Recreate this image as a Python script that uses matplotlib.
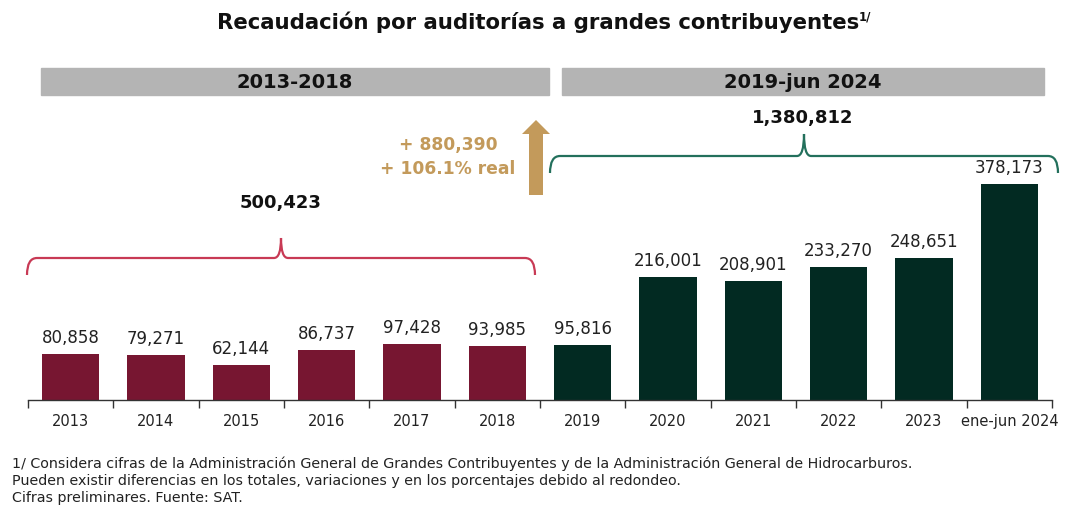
import matplotlib
matplotlib.use("Agg")
import matplotlib.pyplot as plt
from matplotlib.path import Path
from matplotlib.patches import PathPatch, Rectangle, FancyArrow

categories = ["2013", "2014", "2015", "2016", "2017", "2018",
              "2019", "2020", "2021", "2022", "2023", "ene-jun 2024"]
values = [80858, 79271, 62144, 86737, 97428, 93985,
          95816, 216001, 208901, 233270, 248651, 378173]
period_labels = ["2013-2018", "2019-jun 2024"]
period_totals = ["500,423", "1,380,812"]
growth_text = "+ 880,390\n+ 106.1% real"
title = "Recaudación por auditorías a grandes contribuyentes"
footnotes = [
    "1/ Considera cifras de la Administración General de Grandes Contribuyentes y de la Administración General de Hidrocarburos.",
    "Pueden existir diferencias en los totales, variaciones y en los porcentajes debido al redondeo.",
    "Cifras preliminares. Fuente: SAT.",
]

MAROON = "#771631"
GREEN = "#022a22"
GOLD = "#c39a5b"
RED_BR = "#c83a55"
GREEN_BR = "#23705c"
GRAY = "#b4b4b4"

plt.rcParams['font.family'] = ['DejaVu Sans']

W, H = 1073, 523
fig = plt.figure(figsize=(W / 100, H / 100), dpi=100)

# main axes (pixel layout): x 28..1052, baseline y=400, top y=60
ax_l, ax_r, ax_b, ax_t = 28, 1052, 400, 60
ax = fig.add_axes([ax_l / W, (H - ax_b) / H, (ax_r - ax_l) / W, (ax_b - ax_t) / H])
ppu = 216 / 378173.0
ax.set_ylim(0, (ax_b - ax_t) / ppu)
ax.set_xlim(-0.5, len(categories) - 0.5)
x = list(range(len(categories)))
colors = [MAROON] * 6 + [GREEN] * 6
ax.bar(x, values, width=0.67, color=colors, zorder=2)
for xi, v in zip(x, values):
    ax.text(xi, v + 7 / ppu, f"{v:,}", ha="center", va="bottom", fontsize=12, color="#222222")

for s in ["top", "right", "left"]:
    ax.spines[s].set_visible(False)
ax.spines["bottom"].set_color("#333333")
ax.spines["bottom"].set_linewidth(1.0)
ax.set_yticks([])
ax.set_xticks([i - 0.5 for i in range(len(categories) + 1)], minor=False)
ax.set_xticklabels([])
ax.tick_params(axis="x", length=6, color="#333333", width=1)
ax.set_xticks(x, minor=True)
ax.set_xticklabels(categories, minor=True, fontsize=10.5, color="#222222")
ax.tick_params(axis="x", which="minor", length=0, pad=10)

# overlay in pixel coordinates
ov = fig.add_axes([0, 0, 1, 1], facecolor="none")
ov.set_xlim(0, W)
ov.set_ylim(H, 0)
ov.axis("off")

fig.text(538 / W, 1 - 22 / H, title, ha="center", va="center",
         fontsize=15.3, fontweight="bold", color="#111111")
fig.text(859 / W, 1 - 17 / H, "1/", ha="left", va="center",
         fontsize=8.5, fontweight="bold", color="#111111")

# period header bars
for (x0, x1), lab in zip([(41, 549), (562, 1044)], period_labels):
    ov.add_patch(Rectangle((x0, 68), x1 - x0, 27, color=GRAY, zorder=1))
    ov.text((x0 + x1) / 2, 82, lab, ha="center", va="center", fontsize=14,
            fontweight="bold", color="#111111")


def brace(x0, x1, xc, y_end, y_h, y_top, color):
    r = 10
    verts = [(x0, y_end), (x0, y_h), (x0 + r, y_h),
             (xc - 7, y_h), (xc, y_h), (xc, y_top),
             (xc, y_h), (xc + 7, y_h),
             (x1 - r, y_h), (x1, y_h), (x1, y_end)]
    codes = [Path.MOVETO, Path.CURVE3, Path.CURVE3,
             Path.LINETO, Path.CURVE3, Path.CURVE3,
             Path.CURVE3, Path.CURVE3,
             Path.LINETO, Path.CURVE3, Path.CURVE3]
    ov.add_patch(PathPatch(Path(verts, codes), facecolor="none", edgecolor=color, lw=1.6))


brace(27, 535, 281, 275, 258, 238, RED_BR)
brace(550, 1058, 804, 173, 156, 134, GREEN_BR)
ov.text(281, 203, period_totals[0], ha="center", va="center", fontsize=13,
        fontweight="bold", color="#111111")
ov.text(803, 118, period_totals[1], ha="center", va="center", fontsize=13,
        fontweight="bold", color="#111111")

# growth arrow
ov.add_patch(FancyArrow(536, 195, 0, -75, width=14, head_width=28, head_length=14,
                        length_includes_head=True, color=GOLD, lw=0))
ov.text(448, 157, growth_text, ha="center", va="center", fontsize=12.3,
        fontweight="bold", color=GOLD, linespacing=1.4)

for i, t in enumerate(footnotes):
    fig.text(12 / W, 1 - (464 + i * 17) / H, t, ha="left", va="center",
             fontsize=10.25, color="#222222")

fig.savefig("out.png", dpi=100)
